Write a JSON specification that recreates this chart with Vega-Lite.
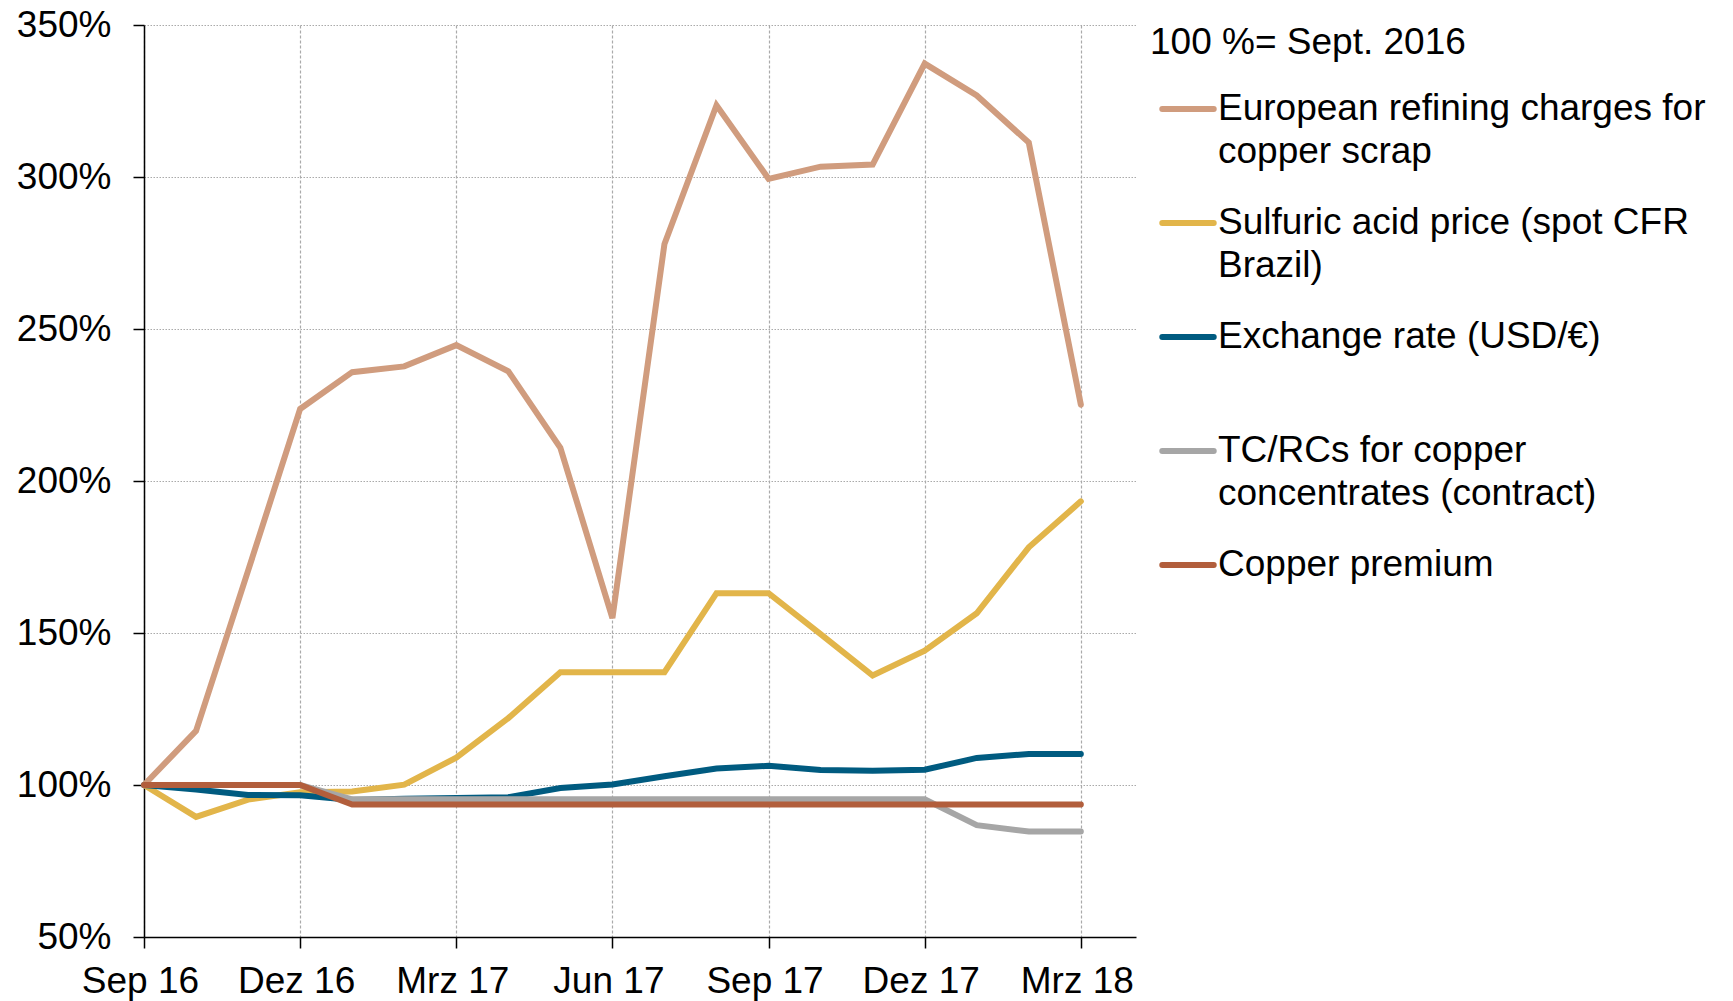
{
  "$schema": "https://vega.github.io/schema/vega-lite/v6.json",
  "width": 992,
  "height": 912,
  "autosize": {"type": "none"},
  "padding": {"left": 144, "top": 25, "right": 597, "bottom": 64},
  "background": "white",
  "datasets": {
    "series": [
      {"series": "European refining charges for copper scrap", "t": 0, "value": 100},
      {"series": "European refining charges for copper scrap", "t": 1, "value": 117.8},
      {"series": "European refining charges for copper scrap", "t": 2, "value": 170.5},
      {"series": "European refining charges for copper scrap", "t": 3, "value": 223.7},
      {"series": "European refining charges for copper scrap", "t": 4, "value": 235.8},
      {"series": "European refining charges for copper scrap", "t": 5, "value": 237.7},
      {"series": "European refining charges for copper scrap", "t": 6, "value": 244.7},
      {"series": "European refining charges for copper scrap", "t": 7, "value": 236.1},
      {"series": "European refining charges for copper scrap", "t": 8, "value": 210.9},
      {"series": "European refining charges for copper scrap", "t": 9, "value": 154.9},
      {"series": "European refining charges for copper scrap", "t": 10, "value": 278.0},
      {"series": "European refining charges for copper scrap", "t": 11, "value": 323.6},
      {"series": "European refining charges for copper scrap", "t": 12, "value": 299.4},
      {"series": "European refining charges for copper scrap", "t": 13, "value": 303.4},
      {"series": "European refining charges for copper scrap", "t": 14, "value": 304.1},
      {"series": "European refining charges for copper scrap", "t": 15, "value": 337.3},
      {"series": "European refining charges for copper scrap", "t": 16, "value": 326.8},
      {"series": "European refining charges for copper scrap", "t": 17, "value": 311.3},
      {"series": "European refining charges for copper scrap", "t": 18, "value": 225.1},
      {"series": "Sulfuric acid price (spot CFR Brazil)", "t": 0, "value": 100},
      {"series": "Sulfuric acid price (spot CFR Brazil)", "t": 1, "value": 89.5},
      {"series": "Sulfuric acid price (spot CFR Brazil)", "t": 2, "value": 95.2},
      {"series": "Sulfuric acid price (spot CFR Brazil)", "t": 3, "value": 97.6},
      {"series": "Sulfuric acid price (spot CFR Brazil)", "t": 4, "value": 97.9},
      {"series": "Sulfuric acid price (spot CFR Brazil)", "t": 5, "value": 100.1},
      {"series": "Sulfuric acid price (spot CFR Brazil)", "t": 6, "value": 109.0},
      {"series": "Sulfuric acid price (spot CFR Brazil)", "t": 7, "value": 122.0},
      {"series": "Sulfuric acid price (spot CFR Brazil)", "t": 8, "value": 137.1},
      {"series": "Sulfuric acid price (spot CFR Brazil)", "t": 9, "value": 137.1},
      {"series": "Sulfuric acid price (spot CFR Brazil)", "t": 10, "value": 137.1},
      {"series": "Sulfuric acid price (spot CFR Brazil)", "t": 11, "value": 163.1},
      {"series": "Sulfuric acid price (spot CFR Brazil)", "t": 12, "value": 163.1},
      {"series": "Sulfuric acid price (spot CFR Brazil)", "t": 13, "value": 149.6},
      {"series": "Sulfuric acid price (spot CFR Brazil)", "t": 14, "value": 136.0},
      {"series": "Sulfuric acid price (spot CFR Brazil)", "t": 15, "value": 144.2},
      {"series": "Sulfuric acid price (spot CFR Brazil)", "t": 16, "value": 156.5},
      {"series": "Sulfuric acid price (spot CFR Brazil)", "t": 17, "value": 178.2},
      {"series": "Sulfuric acid price (spot CFR Brazil)", "t": 18, "value": 193.3},
      {"series": "Exchange rate (USD/€)", "t": 0, "value": 100},
      {"series": "Exchange rate (USD/€)", "t": 1, "value": 98.5},
      {"series": "Exchange rate (USD/€)", "t": 2, "value": 96.7},
      {"series": "Exchange rate (USD/€)", "t": 3, "value": 96.6},
      {"series": "Exchange rate (USD/€)", "t": 4, "value": 95.1},
      {"series": "Exchange rate (USD/€)", "t": 5, "value": 95.5},
      {"series": "Exchange rate (USD/€)", "t": 6, "value": 95.7},
      {"series": "Exchange rate (USD/€)", "t": 7, "value": 96.0},
      {"series": "Exchange rate (USD/€)", "t": 8, "value": 99.0},
      {"series": "Exchange rate (USD/€)", "t": 9, "value": 100.2},
      {"series": "Exchange rate (USD/€)", "t": 10, "value": 102.9},
      {"series": "Exchange rate (USD/€)", "t": 11, "value": 105.4},
      {"series": "Exchange rate (USD/€)", "t": 12, "value": 106.3},
      {"series": "Exchange rate (USD/€)", "t": 13, "value": 104.9},
      {"series": "Exchange rate (USD/€)", "t": 14, "value": 104.7},
      {"series": "Exchange rate (USD/€)", "t": 15, "value": 105.0},
      {"series": "Exchange rate (USD/€)", "t": 16, "value": 108.9},
      {"series": "Exchange rate (USD/€)", "t": 17, "value": 110.2},
      {"series": "Exchange rate (USD/€)", "t": 18, "value": 110.2},
      {"series": "TC/RCs for copper concentrates (contract)", "t": 0, "value": 100},
      {"series": "TC/RCs for copper concentrates (contract)", "t": 1, "value": 100},
      {"series": "TC/RCs for copper concentrates (contract)", "t": 2, "value": 100},
      {"series": "TC/RCs for copper concentrates (contract)", "t": 3, "value": 100},
      {"series": "TC/RCs for copper concentrates (contract)", "t": 4, "value": 95.3},
      {"series": "TC/RCs for copper concentrates (contract)", "t": 5, "value": 95.3},
      {"series": "TC/RCs for copper concentrates (contract)", "t": 6, "value": 95.3},
      {"series": "TC/RCs for copper concentrates (contract)", "t": 7, "value": 95.3},
      {"series": "TC/RCs for copper concentrates (contract)", "t": 8, "value": 95.3},
      {"series": "TC/RCs for copper concentrates (contract)", "t": 9, "value": 95.3},
      {"series": "TC/RCs for copper concentrates (contract)", "t": 10, "value": 95.3},
      {"series": "TC/RCs for copper concentrates (contract)", "t": 11, "value": 95.3},
      {"series": "TC/RCs for copper concentrates (contract)", "t": 12, "value": 95.3},
      {"series": "TC/RCs for copper concentrates (contract)", "t": 13, "value": 95.3},
      {"series": "TC/RCs for copper concentrates (contract)", "t": 14, "value": 95.3},
      {"series": "TC/RCs for copper concentrates (contract)", "t": 15, "value": 95.3},
      {"series": "TC/RCs for copper concentrates (contract)", "t": 16, "value": 86.8},
      {"series": "TC/RCs for copper concentrates (contract)", "t": 17, "value": 84.7},
      {"series": "TC/RCs for copper concentrates (contract)", "t": 18, "value": 84.7},
      {"series": "Copper premium", "t": 0, "value": 100},
      {"series": "Copper premium", "t": 1, "value": 100},
      {"series": "Copper premium", "t": 2, "value": 100},
      {"series": "Copper premium", "t": 3, "value": 100},
      {"series": "Copper premium", "t": 4, "value": 93.6},
      {"series": "Copper premium", "t": 5, "value": 93.6},
      {"series": "Copper premium", "t": 6, "value": 93.6},
      {"series": "Copper premium", "t": 7, "value": 93.6},
      {"series": "Copper premium", "t": 8, "value": 93.6},
      {"series": "Copper premium", "t": 9, "value": 93.6},
      {"series": "Copper premium", "t": 10, "value": 93.6},
      {"series": "Copper premium", "t": 11, "value": 93.6},
      {"series": "Copper premium", "t": 12, "value": 93.6},
      {"series": "Copper premium", "t": 13, "value": 93.6},
      {"series": "Copper premium", "t": 14, "value": 93.6},
      {"series": "Copper premium", "t": 15, "value": 93.6},
      {"series": "Copper premium", "t": 16, "value": 93.6},
      {"series": "Copper premium", "t": 17, "value": 93.6},
      {"series": "Copper premium", "t": 18, "value": 93.6}
    ]
  },
  "data": {"name": "series"},
  "mark": {"type": "line", "strokeWidth": 6, "strokeCap": "round"},
  "encoding": {
    "x": {
      "field": "t",
      "type": "quantitative",
      "scale": {"domain": [0, 19.06], "nice": false, "zero": false},
      "axis": {
        "title": null,
        "values": [0, 3, 6, 9, 12, 15, 18],
        "labelExpr": "['Sep 16','Dez 16','Mrz 17','Jun 17','Sep 17','Dez 17','Mrz 18'][round(datum.value/3)]",
        "grid": true,
        "gridDash": [3, 2],
        "gridColor": "#aaaaaa",
        "gridWidth": 1.2,
        "tickSize": 11,
        "labelPadding": 15,
        "labelOffset": -4,
        "labelFlush": false,
        "labelOverlap": false
      }
    },
    "y": {
      "field": "value",
      "type": "quantitative",
      "scale": {"domain": [50, 350], "nice": false, "zero": false},
      "axis": {
        "title": null,
        "values": [50, 100, 150, 200, 250, 300, 350],
        "labelExpr": "datum.value + '%'",
        "grid": true,
        "gridDash": [1.5, 1.5],
        "gridColor": "#aaaaaa",
        "gridWidth": 1.2,
        "tickSize": 11,
        "labelPadding": 22
      }
    },
    "color": {
      "field": "series",
      "type": "nominal",
      "scale": {
        "domain": [
          "European refining charges for copper scrap",
          "Sulfuric acid price (spot CFR Brazil)",
          "Exchange rate (USD/€)",
          "TC/RCs for copper concentrates (contract)",
          "Copper premium"
        ],
        "range": ["#D09C7E", "#E2B54A", "#005B80", "#A6A6A6", "#B25E3C"]
      },
      "legend": {
        "title": "100 %= Sept. 2016",
        "orient": "right",
        "offset": 14,
        "titlePadding": 18,
        "symbolType": "stroke",
        "symbolSize": 2650,
        "symbolStrokeWidth": 6,
        "symbolOffset": 9,
        "labelOffset": 1,
        "rowPadding": 24,
        "labelLimit": 800,
        "labelExpr": "datum.label == 'European refining charges for copper scrap' ? ['European refining charges for', 'copper scrap'] : datum.label == 'Sulfuric acid price (spot CFR Brazil)' ? ['Sulfuric acid price (spot CFR', 'Brazil)'] : datum.label == 'TC/RCs for copper concentrates (contract)' ? ['TC/RCs for copper', 'concentrates (contract)'] : [datum.label, '']",
        "encode": {
          "labels": {"update": {"lineHeight": {"value": 43}}},
          "symbols": {"update": {"strokeCap": {"value": "round"}}}
        }
      }
    }
  },
  "config": {
    "view": {"stroke": null},
    "font": "Liberation Sans",
    "axis": {
      "labelFont": "Liberation Sans",
      "labelFontSize": 37,
      "labelColor": "black",
      "domainColor": "black",
      "domainWidth": 1.5,
      "tickColor": "black",
      "tickWidth": 1.5
    },
    "legend": {
      "labelFont": "Liberation Sans",
      "labelFontSize": 37,
      "labelColor": "black",
      "titleFont": "Liberation Sans",
      "titleFontSize": 37,
      "titleFontWeight": "normal",
      "titleColor": "black",
      "titleLimit": 800,
      "symbolStrokeColor": null
    }
  }
}
